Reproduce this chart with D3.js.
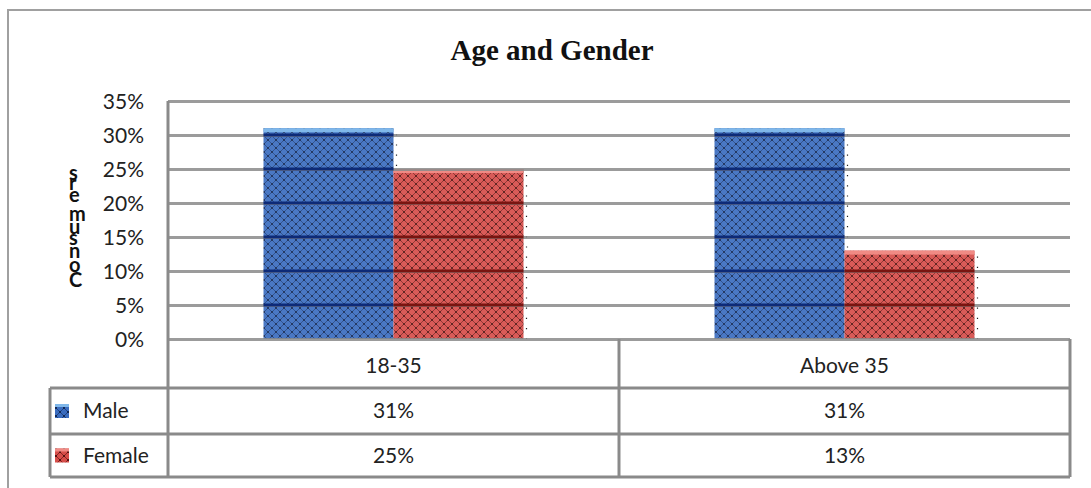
<!DOCTYPE html>
<html>
<head>
<meta charset="utf-8">
<script src="https://cdn.jsdelivr.net/npm/d3@7"></script>
<style>
  html, body { margin: 0; padding: 0; background: #fff; }
  svg { display: block; }
</style>
</head>
<body>
<svg id="chart" width="1091" height="488"></svg>
<script>
// Share of consumers by age group and gender
const categories = ["18-35", "Above 35"];
const seriesNames = ["Male", "Female"];
const maleValues = [31, 31];
const femaleValues = [25, 13];
const yTicks = [0, 5, 10, 15, 20, 25, 30, 35];
const yTitle = "Consumers";
const chartTitle = "Age and Gender";

const series = [
  { name: seriesNames[0], values: maleValues, key: "m" },
  { name: seriesNames[1], values: femaleValues, key: "f" }
];

const svg = d3.select("#chart");
const font = "Lato, 'Open Sans', sans-serif";

const plot = { left: 168, right: 1070, top: 101, bottom: 339 };
const tableRows = { cat: [339, 388], male: [388, 434], female: [434, 477] };
const legendLeft = 50;

const x = d3.scaleBand().domain(categories).range([plot.left, plot.right]).paddingInner(0).paddingOuter(0);
const xs = d3.scaleBand().domain(seriesNames).range([0, 260]);
const y = d3.scaleLinear().domain([0, 35]).range([plot.bottom, plot.top]);

// Patterns: crosshatch with dotted texture, used for bars and legend keys
const defs = svg.append("defs");
const palettes = {
  m: { base: "#3a6cbf", light: "#7fb7ea", line: "#14306a", dot: "#0a1a3e" },
  f: { base: "#d64d49", light: "#f08a84", line: "#661411", dot: "#3a0907" }
};
Object.entries(palettes).forEach(([k, p]) => {
  const pat = defs.append("pattern")
    .attr("id", "hatch-" + k)
    .attr("patternUnits", "userSpaceOnUse")
    .attr("width", 8).attr("height", 8);
  pat.append("rect").attr("width", 8).attr("height", 8).attr("fill", p.base);
  pat.append("path").attr("d", "M0,0 L8,8 M8,0 L0,8")
    .attr("stroke", p.line).attr("stroke-width", 0.9).attr("opacity", 0.75);
  [[4, 4], [0, 0], [8, 8], [0, 8], [8, 0]].forEach(([cx, cy]) =>
    pat.append("circle").attr("cx", cx).attr("cy", cy).attr("r", 0.9).attr("fill", p.dot));
});

// Outer frame
svg.append("rect")
  .attr("x", 8).attr("y", 10).attr("width", 1200).attr("height", 700)
  .attr("fill", "none").attr("stroke", "#a0a0a0").attr("stroke-width", 2);

// Title
svg.append("text")
  .attr("x", 552).attr("y", 60)
  .attr("text-anchor", "middle")
  .attr("font-family", "'Liberation Serif', 'Times New Roman', serif")
  .attr("font-weight", "bold").attr("font-size", 29)
  .attr("fill", "#111")
  .text(chartTitle);

// Bars
const barX = (s, c) => x(c) + x.bandwidth() / 2 - xs.range()[1] / 2 + xs(s.name);
const barG = svg.append("g");
series.forEach(s => {
  const p = palettes[s.key];
  categories.forEach((c, i) => {
    const v = s.values[i];
    const bx = barX(s, c);
    const bw = xs.bandwidth();
    const top = y(v);
    barG.append("rect")
      .attr("x", bx).attr("y", top)
      .attr("width", bw).attr("height", plot.bottom - top)
      .attr("fill", `url(#hatch-${s.key})`)
      .attr("opacity", 0.92);
    barG.append("rect")
      .attr("x", bx).attr("y", top)
      .attr("width", bw).attr("height", 4)
      .attr("fill", p.light);
    // dotted shadow edge on the right
    barG.append("line")
      .attr("x1", bx + bw + 3).attr("x2", bx + bw + 3)
      .attr("y1", top + 6).attr("y2", plot.bottom)
      .attr("stroke", "#222").attr("stroke-width", 1.2)
      .attr("stroke-dasharray", "1.2,9");
  });
});

// Gridlines drawn over the bars
const gridAxis = d3.axisLeft(y).tickValues(yTicks).tickSize(-(plot.right - plot.left)).tickFormat("");
const grid = svg.append("g").attr("transform", `translate(${plot.left},0)`).call(gridAxis);
grid.select(".domain").remove();
grid.selectAll(".tick line").attr("stroke", "#8a8a8a").attr("stroke-width", 3).attr("opacity", 0.85);

// Gridline segments crossing a bar take the bar's dark tone
series.forEach(s => {
  categories.forEach((c, i) => {
    const v = s.values[i];
    const bx = barX(s, c);
    const bw = xs.bandwidth();
    yTicks.filter(t => t > 0 && t < v).forEach(t => {
      svg.append("line")
        .attr("x1", bx).attr("x2", bx + bw)
        .attr("y1", y(t)).attr("y2", y(t))
        .attr("stroke", s.key === "m" ? "#0d2a78" : "#7a1410")
        .attr("stroke-width", 3);
    });
  });
});

// Tick labels
const axis = d3.axisLeft(y).tickValues(yTicks).tickSize(0).tickPadding(0).tickFormat(d => d + "%");
const ax = svg.append("g").attr("transform", "translate(144,0)").call(axis);
ax.select(".domain").remove();
ax.selectAll("text").attr("font-family", font).attr("font-size", 21).attr("fill", "#222").attr("dy", "0.35em");

// Axis title: text runs upward, each glyph turned back upright so letters stack
svg.append("g")
  .attr("transform", "translate(69,287) rotate(-90)")
  .append("text")
  .attr("x", 0).attr("y", 0)
  .attr("rotate", 90)
  .attr("font-family", font).attr("font-weight", "bold")
  .attr("font-size", 20).attr("letter-spacing", 2)
  .attr("fill", "#111")
  .text(yTitle);

// Data table
const lineColor = "#8a8a8a";
const tbl = svg.append("g");
const hline = (x1, x2, yy) => tbl.append("line").attr("x1", x1).attr("x2", x2).attr("y1", yy).attr("y2", yy)
  .attr("stroke", lineColor).attr("stroke-width", 3);
const vline = (xx, y1, y2) => tbl.append("line").attr("x1", xx).attr("x2", xx).attr("y1", y1).attr("y2", y2)
  .attr("stroke", lineColor).attr("stroke-width", 3);

hline(legendLeft, plot.right, tableRows.male[0]);
hline(legendLeft, plot.right, tableRows.female[0]);
hline(legendLeft, plot.right, tableRows.female[1]);
vline(plot.left, plot.top, tableRows.female[1]);
vline(legendLeft, tableRows.male[0], tableRows.female[1]);
vline(x(categories[1]), plot.bottom, tableRows.female[1]);
vline(plot.right, plot.bottom, tableRows.female[1]);

const cellText = (tx, ty, t, anchor) => tbl.append("text")
  .attr("x", tx).attr("y", ty).attr("text-anchor", anchor || "middle")
  .attr("dy", "0.35em")
  .attr("font-family", font).attr("font-size", 21).attr("fill", "#222").text(t);

categories.forEach((c, i) => {
  const cx = x(c) + x.bandwidth() / 2;
  cellText(cx, (tableRows.cat[0] + tableRows.cat[1]) / 2 + 2, c);
  cellText(cx, (tableRows.male[0] + tableRows.male[1]) / 2, maleValues[i] + "%");
  cellText(cx, (tableRows.female[0] + tableRows.female[1]) / 2, femaleValues[i] + "%");
});

// Legend keys inside the table
series.forEach(s => {
  const row = s.key === "m" ? tableRows.male : tableRows.female;
  const cy = (row[0] + row[1]) / 2;
  tbl.append("rect").attr("x", 55).attr("y", cy - 7).attr("width", 14).attr("height", 14)
    .attr("fill", `url(#hatch-${s.key})`);
  tbl.append("rect").attr("x", 55).attr("y", cy - 7).attr("width", 14).attr("height", 3)
    .attr("fill", palettes[s.key].light);
  cellText(83, cy, s.name, "start");
});
</script>
</body>
</html>
